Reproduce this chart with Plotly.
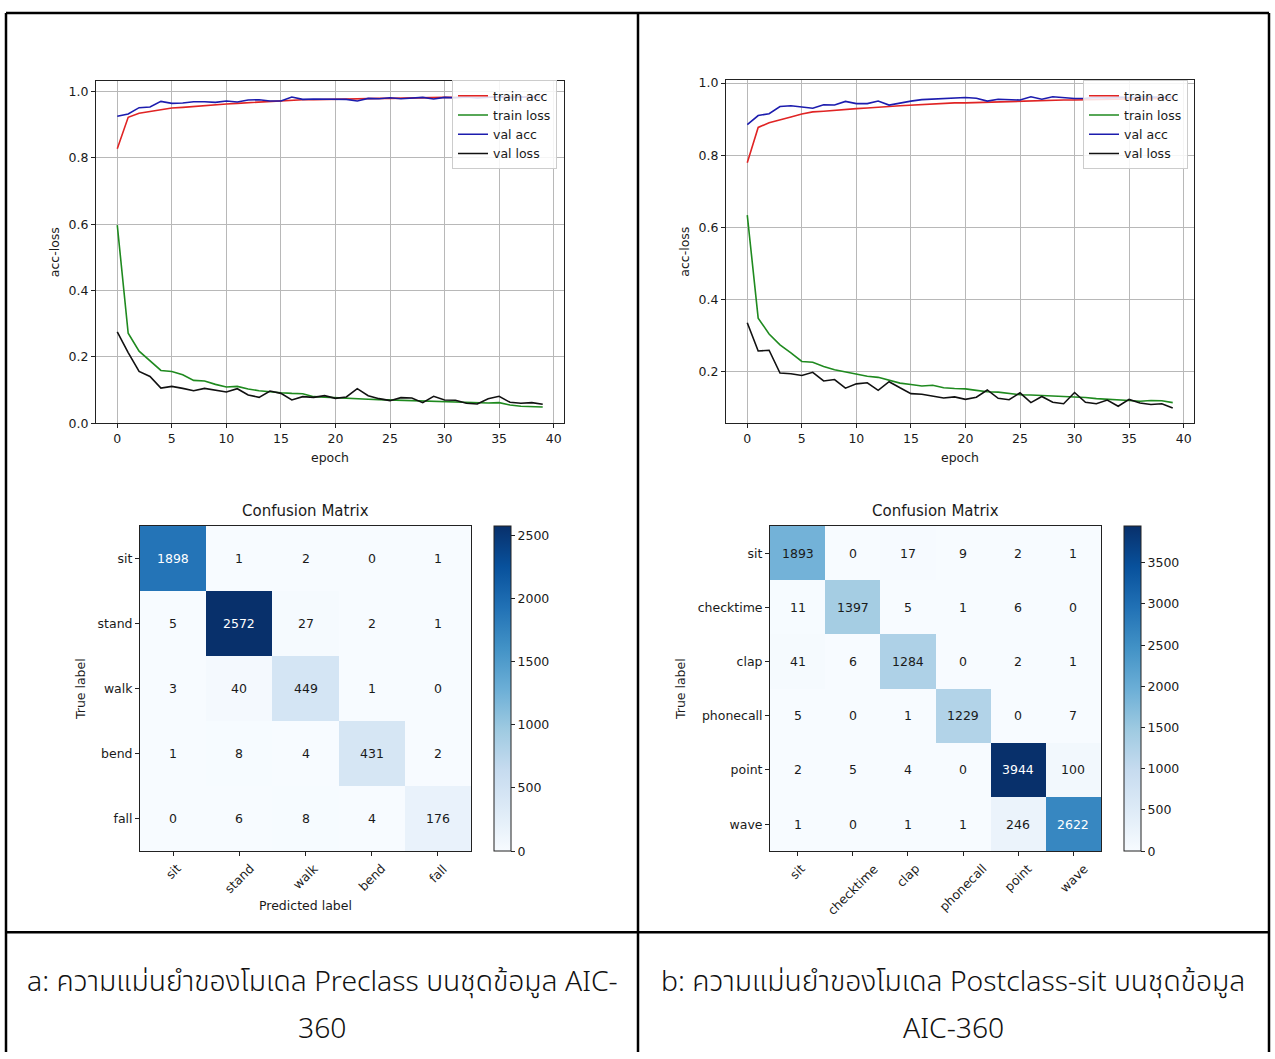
import plotly.graph_objects as go

W, H = 1275, 1059

# ---------------- training curves (40 epochs) ----------------
epochs = list(range(40))

a_train_acc = [0.827, 0.922, 0.934, 0.940, 0.945, 0.950, 0.952, 0.955, 0.957, 0.959,
               0.962, 0.964, 0.966, 0.968, 0.970, 0.972, 0.974, 0.975, 0.975, 0.976,
               0.976, 0.977, 0.978, 0.978, 0.979, 0.979, 0.980, 0.980, 0.981, 0.981,
               0.982, 0.982, 0.982, 0.983, 0.983, 0.983, 0.984, 0.984, 0.984, 0.985]
a_train_loss = [0.597, 0.271, 0.217, 0.189, 0.159, 0.156, 0.146, 0.129, 0.127, 0.117,
                0.109, 0.111, 0.103, 0.098, 0.094, 0.092, 0.090, 0.089, 0.080, 0.078,
                0.076, 0.074, 0.073, 0.072, 0.071, 0.070, 0.068, 0.067, 0.065, 0.064,
                0.064, 0.063, 0.063, 0.062, 0.061, 0.062, 0.055, 0.051, 0.050, 0.049]
a_val_acc = [0.925, 0.932, 0.951, 0.953, 0.970, 0.964, 0.965, 0.969, 0.969, 0.967,
             0.971, 0.968, 0.974, 0.975, 0.971, 0.971, 0.983, 0.976, 0.977, 0.976,
             0.977, 0.976, 0.971, 0.979, 0.978, 0.981, 0.978, 0.979, 0.982, 0.977,
             0.982, 0.981, 0.983, 0.980, 0.982, 0.984, 0.981, 0.983, 0.982, 0.984]
a_val_loss = [0.275, 0.213, 0.156, 0.141, 0.106, 0.111, 0.105, 0.098, 0.105, 0.100,
              0.094, 0.104, 0.085, 0.078, 0.097, 0.090, 0.070, 0.080, 0.078, 0.083,
              0.075, 0.079, 0.104, 0.083, 0.074, 0.068, 0.077, 0.076, 0.062, 0.081,
              0.070, 0.069, 0.060, 0.058, 0.074, 0.081, 0.063, 0.060, 0.062, 0.057]

b_train_acc = [0.779, 0.877, 0.890, 0.899, 0.906, 0.914, 0.920, 0.922, 0.925, 0.927,
               0.929, 0.931, 0.934, 0.935, 0.937, 0.939, 0.941, 0.942, 0.944, 0.945,
               0.945, 0.946, 0.948, 0.948, 0.950, 0.950, 0.951, 0.952, 0.952, 0.953,
               0.953, 0.954, 0.954, 0.955, 0.955, 0.956, 0.956, 0.957, 0.957, 0.958]
b_train_loss = [0.634, 0.349, 0.305, 0.275, 0.253, 0.229, 0.227, 0.215, 0.206, 0.200,
                0.196, 0.188, 0.185, 0.176, 0.169, 0.165, 0.161, 0.163, 0.156, 0.154,
                0.153, 0.149, 0.145, 0.144, 0.140, 0.137, 0.136, 0.135, 0.132, 0.132,
                0.131, 0.129, 0.126, 0.125, 0.124, 0.121, 0.119, 0.121, 0.120, 0.115]
b_val_acc = [0.885, 0.910, 0.915, 0.935, 0.937, 0.933, 0.930, 0.940, 0.939, 0.949,
             0.943, 0.943, 0.950, 0.939, 0.945, 0.950, 0.954, 0.955, 0.956, 0.958,
             0.960, 0.958, 0.950, 0.955, 0.955, 0.953, 0.962, 0.955, 0.962, 0.960,
             0.957, 0.958, 0.960, 0.959, 0.961, 0.960, 0.962, 0.961, 0.962, 0.961]
b_val_loss = [0.336, 0.258, 0.260, 0.197, 0.195, 0.190, 0.199, 0.175, 0.179, 0.155,
              0.167, 0.170, 0.149, 0.173, 0.156, 0.140, 0.138, 0.133, 0.128, 0.131,
              0.124, 0.130, 0.150, 0.127, 0.123, 0.142, 0.115, 0.132, 0.116, 0.112,
              0.143, 0.116, 0.112, 0.122, 0.105, 0.124, 0.114, 0.110, 0.112, 0.100]

# ---------------- confusion matrices ----------------
a_labels = ["sit", "stand", "walk", "bend", "fall"]
a_cm = [[1898, 1, 2, 0, 1],
        [5, 2572, 27, 2, 1],
        [3, 40, 449, 1, 0],
        [1, 8, 4, 431, 2],
        [0, 6, 8, 4, 176]]

b_labels = ["sit", "checktime", "clap", "phonecall", "point", "wave"]
b_cm = [[1893, 0, 17, 9, 2, 1],
        [11, 1397, 5, 1, 6, 0],
        [41, 6, 1284, 0, 2, 1],
        [5, 0, 1, 1229, 0, 7],
        [2, 5, 4, 0, 3944, 100],
        [1, 0, 1, 1, 246, 2622]]

caption_a = ["a: ความแม่นยำของโมเดล Preclass บนชุดข้อมูล AIC-", "360"]
caption_b = ["b: ความแม่นยำของโมเดล Postclass-sit บนชุดข้อมูล", "AIC-360"]

# ---------------- helpers ----------------
def fx(px):
    return px / W


def fy(py):
    return 1 - py / H


BLUES = [[0.0, "#f7fbff"], [0.125, "#deebf7"], [0.25, "#c6dbef"], [0.375, "#9ecae1"],
         [0.5, "#6baed6"], [0.625, "#4292c6"], [0.75, "#2171b5"], [0.875, "#08519c"],
         [1.0, "#08306b"]]

FONT = "DejaVu Sans, Verdana, sans-serif"
THAI = "Leelawadee UI, Noto Sans Thai, Noto Sans Thai UI, Tahoma, Loma, Garuda, Norasi, sans-serif"
TXT = "#1a1a1a"

fig = go.Figure()

series_style = [("train acc", "#e02424"), ("train loss", "#1f8a1f"),
                ("val acc", "#1c1cae"), ("val loss", "#111111")]

# curves panel a
for (name, color), ys in zip(series_style, [a_train_acc, a_train_loss, a_val_acc, a_val_loss]):
    fig.add_trace(go.Scatter(x=epochs, y=ys, mode="lines", name=name,
                             line=dict(color=color, width=1.6),
                             xaxis="x", yaxis="y", legend="legend"))
# curves panel b
for (name, color), ys in zip(series_style, [b_train_acc, b_train_loss, b_val_acc, b_val_loss]):
    fig.add_trace(go.Scatter(x=epochs, y=ys, mode="lines", name=name,
                             line=dict(color=color, width=1.6),
                             xaxis="x2", yaxis="y2", legend="legend2"))

CM_TOP, CM_BOT = 527, 856


# confusion matrix heatmaps
def add_cm(cm, labels, xa, ya, cb_left, cb_ticks, ax_left, ax_right):
    n = len(labels)
    zmax = max(max(r) for r in cm)
    fig.add_trace(go.Heatmap(
        z=cm, x=list(range(n)), y=list(range(n)), colorscale=BLUES,
        zmin=0, zmax=zmax, xaxis=xa, yaxis=ya, showscale=True, hoverinfo="z",
        colorbar=dict(x=fx(cb_left), xanchor="left", xpad=0, ypad=0,
                      y=fy((CM_TOP + CM_BOT) / 2), yanchor="middle",
                      len=(CM_BOT - CM_TOP) / H, lenmode="fraction", thickness=17,
                      thicknessmode="pixels", outlinewidth=1, outlinecolor="#222",
                      tickvals=cb_ticks, ticks="outside", ticklen=4,
                      tickcolor="#222", tickfont=dict(family=FONT, size=12.5, color=TXT))))
    # cell values, coloured for contrast against the cell shade
    thresh = zmax / 2.0
    xref = "x" + xa[1:]
    yref = "y" + ya[1:]
    for i in range(n):
        for j in range(n):
            v = cm[i][j]
            fig.add_annotation(x=j, y=i, xref=xref, yref=yref, text=str(v),
                               showarrow=False, xanchor="center", yanchor="middle",
                               font=dict(family=FONT, size=12.5,
                                         color="white" if v > thresh else TXT))
    # rotated class names centred under each column
    cell_w = (ax_right - ax_left) / n
    for j, lab in enumerate(labels):
        fig.add_annotation(x=fx(ax_left + cell_w * (j + 0.5)), y=fy(CM_BOT + 7),
                           xref="paper", yref="paper", text=lab, textangle=-45,
                           showarrow=False, xanchor="center", yanchor="top",
                           font=dict(family=FONT, size=12.5, color=TXT))

add_cm(a_cm, a_labels, "x3", "y3", 494, [0, 500, 1000, 1500, 2000, 2500], 140, 471)
add_cm(b_cm, b_labels, "x4", "y4", 1124, [0, 500, 1000, 1500, 2000, 2500, 3000, 3500], 770, 1101)

axis_common = dict(showline=True, linecolor="#222", linewidth=1, mirror=True,
                   ticks="outside", ticklen=4, tickcolor="#222", zeroline=False,
                   tickfont=dict(family=FONT, size=12.5, color=TXT))
curve_axis = dict(axis_common, showgrid=True, gridcolor="#b8b8b8", gridwidth=1)

fig.update_layout(
    width=W, height=H, margin=dict(l=0, r=0, t=0, b=0),
    paper_bgcolor="white", plot_bgcolor="white",
    font=dict(family=FONT, color=TXT),
    xaxis=dict(curve_axis, domain=[fx(96), fx(564)], range=[-1.95, 40.95],
               tick0=0, dtick=5, anchor="y",
               title=dict(text="epoch", font=dict(size=12.5), standoff=8)),
    yaxis=dict(curve_axis, domain=[fy(423), fy(77)], range=[0.0, 1.031],
               tickvals=[0.0, 0.2, 0.4, 0.6, 0.8, 1.0], tickformat=".1f", anchor="x",
               title=dict(text="acc-loss", font=dict(size=12.5), standoff=6)),
    xaxis2=dict(curve_axis, domain=[fx(726), fx(1194)], range=[-1.95, 40.95],
                tick0=0, dtick=5, anchor="y2",
                title=dict(text="epoch", font=dict(size=12.5), standoff=8)),
    yaxis2=dict(curve_axis, domain=[fy(423), fy(76)], range=[0.058, 1.008],
                tickvals=[0.2, 0.4, 0.6, 0.8, 1.0], tickformat=".1f", anchor="x2",
                title=dict(text="acc-loss", font=dict(size=12.5), standoff=6)),
    xaxis3=dict(axis_common, domain=[fx(140), fx(471)], range=[-0.5, 4.5],
                tickvals=list(range(len(a_labels))), showticklabels=False,
                showgrid=False, anchor="y3"),
    yaxis3=dict(axis_common, domain=[fy(CM_BOT), fy(CM_TOP)], range=[4.5, -0.5],
                tickvals=list(range(len(a_labels))), ticktext=a_labels,
                showgrid=False, anchor="x3",
                title=dict(text="True label", font=dict(size=12.5), standoff=9)),
    xaxis4=dict(axis_common, domain=[fx(770), fx(1101)], range=[-0.5, 5.5],
                tickvals=list(range(len(b_labels))), showticklabels=False,
                showgrid=False, anchor="y4"),
    yaxis4=dict(axis_common, domain=[fy(CM_BOT), fy(CM_TOP)], range=[5.5, -0.5],
                tickvals=list(range(len(b_labels))), ticktext=b_labels,
                showgrid=False, anchor="x4",
                title=dict(text="True label", font=dict(size=12.5), standoff=9)),
    legend=dict(x=fx(557), xanchor="right", y=fy(76), yanchor="top",
                bgcolor="rgba(255,255,255,0.85)", bordercolor="#cccccc", borderwidth=1,
                font=dict(family=FONT, size=12.5, color=TXT), tracegroupgap=0),
    legend2=dict(x=fx(1188), xanchor="right", y=fy(76), yanchor="top",
                 bgcolor="rgba(255,255,255,0.85)", bordercolor="#cccccc", borderwidth=1,
                 font=dict(family=FONT, size=12.5, color=TXT), tracegroupgap=0),
    showlegend=True,
)

# matrix titles
for cx in [(140 + 471) / 2, (770 + 1101) / 2]:
    fig.add_annotation(x=fx(cx), y=fy(512), xref="paper", yref="paper",
                       text="Confusion Matrix", showarrow=False,
                       xanchor="center", yanchor="middle",
                       font=dict(family=FONT, size=15, color=TXT))

# x-axis caption for the first matrix
fig.add_annotation(x=fx((140 + 471) / 2), y=fy(911), xref="paper", yref="paper",
                   text="Predicted label", showarrow=False,
                   xanchor="center", yanchor="middle",
                   font=dict(family=FONT, size=12.5, color=TXT))

# captions under each panel, one annotation per line
for cx, lines in zip([322, 953], [caption_a, caption_b]):
    for k, line in enumerate(lines):
        fig.add_annotation(x=fx(cx), y=fy(989 + 47 * k), xref="paper", yref="paper",
                           text=line, showarrow=False, xanchor="center", yanchor="middle",
                           font=dict(family=THAI, size=28.3, color="#111", weight=300))

# table ruling around the two panels
rule = dict(color="black", width=2.5)
for x0, y0, x1, y1 in [(6, 8, 1269, 8), (6, 8, 6, H), (1269, 8, 1269, H),
                       (638, 8, 638, H), (6, 938, 1269, 938)]:
    fig.add_shape(type="line", xref="paper", yref="paper",
                  x0=fx(x0), y0=fy(y0), x1=fx(x1), y1=fy(y1), line=rule)

fig.write_html("out.html")
